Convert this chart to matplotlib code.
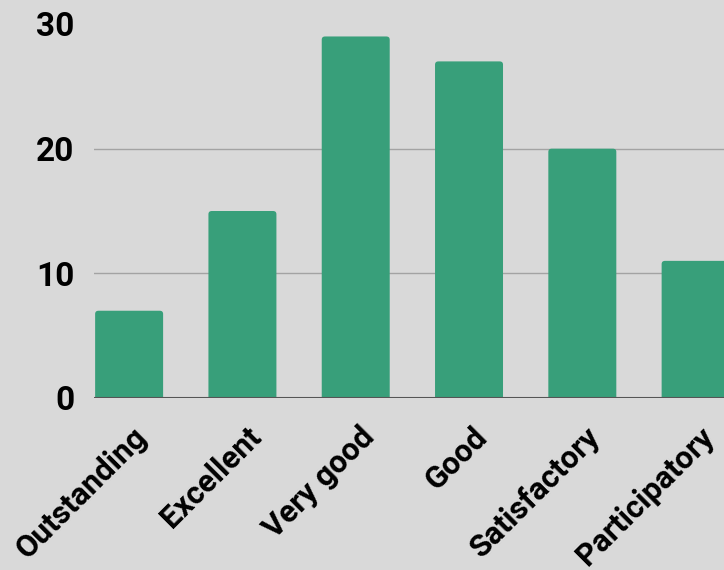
import matplotlib
matplotlib.use("Agg")
import matplotlib.pyplot as plt
from matplotlib.patches import FancyBboxPatch
from matplotlib.transforms import ScaledTranslation

categories = ["Outstanding", "Excellent", "Very good", "Good", "Satisfactory", "Participatory"]
counts = [7, 15, 29, 27, 20, 11]
y_ticks = [0, 10, 20, 30]

BG = "#d9d9d9"
BAR = "#389f7a"

plt.rcParams["font.family"] = ["Roboto", "DejaVu Sans"]

W, H = 724, 570
fig = plt.figure(figsize=(W / 100, H / 100), dpi=100, facecolor=BG)
ax = fig.add_axes([94 / W, (H - 398) / H, 1 - 94 / W, (398 - 24) / H])
ax.set_facecolor(BG)

x = list(range(len(categories)))
bars = ax.bar(x, counts, width=0.6, color=BAR, zorder=2)

# swap plain bars for ones with slightly rounded tops
for b in bars:
    b.set_visible(False)
    rb = FancyBboxPatch((b.get_x(), -1), b.get_width(), b.get_height() + 1,
                        boxstyle="round,pad=0,rounding_size=0.03",
                        mutation_aspect=8.5, facecolor=BAR, edgecolor="none",
                        zorder=2)
    ax.add_patch(rb)

ax.set_xlim(-0.31, (W - 94) / 113.3 - 0.31)
ax.set_ylim(0, 30)

for v in y_ticks[1:-1]:
    ax.axhline(v, color="#a3a3a3", linewidth=1, zorder=1)
ax.axhline(0, color="#555555", linewidth=1.5, zorder=3)

for s in ax.spines.values():
    s.set_visible(False)

ax.set_yticks(y_ticks)
ax.set_yticklabels([str(v) for v in y_ticks], fontsize=24, fontweight="bold")
ax.tick_params(axis="y", length=0, pad=14)
ax.set_xticks(x)
ax.set_xticklabels(categories, fontsize=22.5, fontweight="bold", rotation=45,
                   ha="right", va="top", rotation_mode="anchor")
ax.tick_params(axis="x", length=0, pad=17)
shift = ScaledTranslation(3 / 100, 0, fig.dpi_scale_trans)
for lbl in ax.get_xticklabels():
    lbl.set_transform(lbl.get_transform() + shift)

fig.savefig("out.png", dpi=100, facecolor=BG)
